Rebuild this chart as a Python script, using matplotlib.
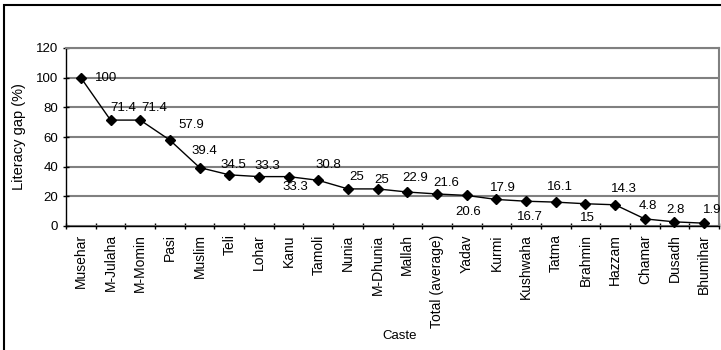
import matplotlib.pyplot as plt
from matplotlib.patches import Rectangle
import numpy as np

plt.rcParams['font.family'] = ['Liberation Sans', 'DejaVu Sans']

# Dados
castes = ["Musehar", "M-Julaha", "M-Momin", "Pasi", "Muslim", "Teli", "Lohar",
          "Kanu", "Tamoli", "Nunia", "M-Dhunia", "Mallah", "Total (average)",
          "Yadav", "Kurmi", "Kushwaha", "Tatma", "Brahmin", "Hazzam",
          "Chamar", "Dusadh", "Bhumihar"]
gap = [100, 71.4, 71.4, 57.9, 39.4, 34.5, 33.3, 33.3, 30.8, 25, 25, 22.9,
       21.6, 20.6, 17.9, 16.7, 16.1, 15, 14.3, 4.8, 2.8, 1.9]
gap_labels = ["100", "71.4", "71.4", "57.9", "39.4", "34.5", "33.3", "33.3",
              "30.8", "25", "25", "22.9", "21.6", "20.6", "17.9", "16.7",
              "16.1", "15", "14.3", "4.8", "2.8", "1.9"]
y_ticks = [0, 20, 40, 60, 80, 100, 120]

# Deslocamento dos rótulos (pixels)
label_offsets = [(25, 0), (13, 12), (14, 12), (21, 15), (5, 17), (4, 10),
                 (8, 11), (7, -10), (10, 15), (9, 12), (4, 9), (8, 14),
                 (9, 11), (1, -17), (7, 11), (4, -16), (4, 15), (2, -14),
                 (9, 16), (3, 13), (1, 12), (8, 13)]

fig = plt.figure(figsize=(7.21, 3.5), dpi=100)
ax = fig.add_axes([66 / 721, 1 - 226 / 350, 653 / 721, 178 / 350])

# Moldura externa
fig.patches.append(Rectangle((4 / 721, -0.1), 1.2, 1 - 5 / 350 + 0.1,
                             transform=fig.transFigure, fill=False,
                             edgecolor='black', linewidth=1.5, zorder=0))

x = np.arange(len(castes))
ax.plot(x, gap, color='black', linewidth=1, marker='D', markersize=5.5,
        clip_on=False, zorder=3)

for xi, yi, txt, (dx, dy) in zip(x, gap, gap_labels, label_offsets):
    ax.annotate(txt, (xi, yi), xytext=(dx, dy), textcoords='offset pixels',
                ha='center', va='center', fontsize=9.5, annotation_clip=False)

ax.set_xlim(-0.5, len(castes) - 0.5)
ax.set_ylim(0, 120)
ax.set_yticks(y_ticks)
ax.set_xticks(x)
ax.set_xticklabels(castes, rotation=90, fontsize=10)
ax.set_xticks(np.arange(-0.5, len(castes), 1), minor=True)
ax.tick_params(axis='x', which='major', length=0, pad=6)
ax.tick_params(axis='x', which='minor', length=4, direction='inout', width=1)
ax.tick_params(axis='y', labelsize=9.5, length=4, direction='inout', width=1)

ax.grid(axis='y', color='#808080', linewidth=1.5)
ax.set_axisbelow(True)
for s in ['top', 'right']:
    ax.spines[s].set_color('#808080')
    ax.spines[s].set_linewidth(1.5)
for s in ['left', 'bottom']:
    ax.spines[s].set_color('black')
    ax.spines[s].set_linewidth(1)

ax.set_ylabel("Literacy gap (%)", fontsize=10.5, labelpad=7)
fig.text(400 / 721, 1 - 336 / 350, "Caste", ha='center', va='center',
         fontsize=9.5)

fig.savefig("out.png", dpi=100)
